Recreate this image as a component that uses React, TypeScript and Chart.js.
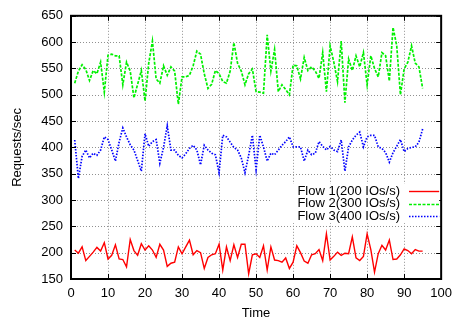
import React, { useEffect, useRef } from "react";
import { Chart, registerables } from "chart.js";

Chart.register(...registerables);

const times = [
  1, 2, 3, 4, 5, 6, 7, 8, 9, 10, 11, 12, 13, 14, 15, 16, 17, 18, 19, 20,
  21, 22, 23, 24, 25, 26, 27, 28, 29, 30, 31, 32, 33, 34, 35, 36, 37, 38, 39, 40,
  41, 42, 43, 44, 45, 46, 47, 48, 49, 50, 51, 52, 53, 54, 55, 56, 57, 58, 59, 60,
  61, 62, 63, 64, 65, 66, 67, 68, 69, 70, 71, 72, 73, 74, 75, 76, 77, 78, 79, 80,
  81, 82, 83, 84, 85, 86, 87, 88, 89, 90, 91, 92, 93, 94, 95,
];

const flow1 = [
  205, 199, 211, 185, 193, 201, 210, 203, 219, 188,
  195, 215, 188, 187, 173, 225, 204, 195, 217, 205,
  213, 205, 191, 216, 205, 174, 180, 182, 211, 198,
  211, 224, 196, 204, 200, 170, 191, 196, 198, 216,
  167, 211, 185, 215, 191, 216, 216, 160, 196, 198,
  191, 213, 167, 211, 186, 185, 182, 190, 170, 182,
  213, 200, 184, 180, 196, 198, 206, 185, 236, 186,
  193, 201, 195, 199, 198, 230, 190, 185, 193, 236,
  206, 163, 198, 214, 205, 224, 187, 188, 196, 207,
  204, 198, 206, 203, 203,
];

const flow2 = [
  522, 545, 557, 548, 527, 546, 540, 562, 505, 575,
  577, 574, 574, 519, 562, 545, 494, 520, 546, 488,
  560, 602, 530, 522, 555, 537, 553, 545, 482, 534,
  534, 537, 555, 583, 577, 540, 512, 520, 546, 540,
  525, 522, 545, 599, 560, 545, 519, 540, 549, 506,
  505, 503, 614, 545, 586, 506, 519, 510, 500, 556,
  555, 530, 571, 546, 553, 545, 531, 580, 506, 593,
  562, 525, 602, 485, 568, 546, 574, 553, 580, 519,
  574, 550, 534, 580, 574, 526, 628, 593, 500, 549,
  562, 593, 560, 553, 512,
];

const flow3 = [
  414, 341, 383, 395, 380, 389, 385, 395, 420, 415,
  395, 374, 410, 437, 420, 405, 395, 375, 355, 426,
  402, 411, 415, 370, 400, 441, 395, 395, 385, 380,
  388, 398, 404, 395, 367, 404, 395, 389, 386, 352,
  423, 420, 410, 400, 395, 380, 352, 385, 423, 358,
  423, 401, 374, 389, 386, 395, 404, 411, 420, 401,
  401, 401, 374, 395, 386, 389, 411, 402, 395, 402,
  395, 392, 414, 355, 401, 414, 423, 429, 401, 420,
  423, 423, 401, 398, 390, 372, 390, 402, 415, 392,
  398, 400, 401, 410, 435,
];

const seriesNames = ["Flow 1(200 IOs/s)", "Flow 2(300 IOs/s)", "Flow 3(400 IOs/s)"];
const seriesColors = ["#ff0000", "#00f000", "#0000ff"];
const seriesDash: number[][] = [[], [3, 1.5], [1.5, 1.5]];
const seriesWidth = [1.4, 1.7, 1.7];

const xTicks = [0, 10, 20, 30, 40, 50, 60, 70, 80, 90, 100];
const yTicks = [150, 200, 250, 300, 350, 400, 450, 500, 550, 600, 650];

const FONT = "'Liberation Sans', Arial, Helvetica, sans-serif";

const gridPlugin = {
  id: "dottedGrid",
  beforeDatasetsDraw(chart: any) {
    const { ctx, chartArea } = chart;
    const { left, right, top, bottom } = chartArea;
    const xs = chart.scales.x;
    const ys = chart.scales.y;
    ctx.save();
    ctx.strokeStyle = "#909090";
    ctx.lineWidth = 1;
    ctx.setLineDash([1, 2]);
    ctx.beginPath();
    xTicks.forEach((v) => {
      const px = Math.round(xs.getPixelForValue(v)) + 0.5;
      ctx.moveTo(px, top);
      ctx.lineTo(px, bottom);
    });
    yTicks.forEach((v) => {
      const py = Math.round(ys.getPixelForValue(v)) + 0.5;
      ctx.moveTo(left, py);
      ctx.lineTo(right, py);
    });
    ctx.stroke();
    ctx.restore();
  },
};

const framePlugin = {
  id: "frameAndKey",
  afterDatasetsDraw(chart: any) {
    const { ctx, chartArea } = chart;
    const { left, right, top, bottom } = chartArea;
    const xs = chart.scales.x;
    const ys = chart.scales.y;
    ctx.save();
    ctx.strokeStyle = "#000";
    ctx.lineWidth = 1;
    ctx.setLineDash([]);
    ctx.beginPath();
    xTicks.forEach((v) => {
      const px = Math.round(xs.getPixelForValue(v)) + 0.5;
      ctx.moveTo(px, bottom);
      ctx.lineTo(px, bottom - 5);
      ctx.moveTo(px, top);
      ctx.lineTo(px, top + 5);
    });
    yTicks.forEach((v) => {
      const py = Math.round(ys.getPixelForValue(v)) + 0.5;
      ctx.moveTo(left, py);
      ctx.lineTo(left + 5, py);
      ctx.moveTo(right, py);
      ctx.lineTo(right - 5, py);
    });
    ctx.stroke();

    // key box (opaque)
    const keyRight = right - 2;
    const boxTop = Math.round(ys.getPixelForValue(331));
    const boxBottom = Math.round(ys.getPixelForValue(256));
    ctx.fillStyle = "#fff";
    ctx.fillRect(left + 199, boxTop, keyRight - (left + 199), boxBottom - boxTop);

    ctx.font = "13px " + FONT;
    ctx.textAlign = "right";
    ctx.textBaseline = "middle";
    const rowH = 12.5;
    const firstY = boxTop + 7;
    seriesNames.forEach((name, i) => {
      const y = firstY + i * rowH;
      ctx.fillStyle = "#000";
      ctx.fillText(name, left + 329, y);
      ctx.strokeStyle = seriesColors[i];
      ctx.lineWidth = seriesWidth[i];
      ctx.setLineDash(seriesDash[i]);
      ctx.beginPath();
      ctx.moveTo(left + 338, Math.round(y) + 0.5);
      ctx.lineTo(right - 2, Math.round(y) + 0.5);
      ctx.stroke();
    });

    ctx.setLineDash([]);
    ctx.strokeStyle = "#000";
    ctx.lineWidth = 2;
    ctx.strokeRect(left, top, right - left, bottom - top);
    ctx.restore();
  },
};

export default function App() {
  const ref = useRef<HTMLCanvasElement | null>(null);

  useEffect(() => {
    if (!ref.current) return;
    const mk = (ys: number[]) => times.map((t, i) => ({ x: t, y: ys[i] }));
    const all = [flow1, flow2, flow3];
    const chart = new Chart(ref.current, {
      type: "line",
      data: {
        datasets: all.map((d, i) => ({
          label: seriesNames[i],
          data: mk(d),
          borderColor: seriesColors[i],
          borderWidth: seriesWidth[i],
          borderDash: seriesDash[i],
          pointRadius: 0,
          tension: 0,
          fill: false,
        })),
      },
      options: {
        responsive: false,
        animation: false,
        events: [],
        layout: { padding: { top: 9, right: 13, left: 0, bottom: 0 } },
        plugins: { legend: { display: false }, tooltip: { enabled: false } },
        scales: {
          x: {
            type: "linear",
            min: 0,
            max: 100,
            afterBuildTicks: (s: any) => {
              s.ticks = xTicks.map((v) => ({ value: v }));
            },
            afterFit: (s: any) => {
              s.height = 43;
            },
            ticks: {
              color: "#000",
              font: { family: FONT, size: 13 },
              padding: 7,
              maxRotation: 0,
              autoSkip: false,
            },
            grid: { display: false, drawTicks: false },
            border: { display: false },
            title: {
              display: true,
              text: "Time",
              color: "#000",
              font: { family: FONT, size: 13 },
              padding: { top: 0, bottom: 1 },
            },
          },
          y: {
            type: "linear",
            min: 150,
            max: 650,
            afterBuildTicks: (s: any) => {
              s.ticks = yTicks.map((v) => ({ value: v }));
            },
            afterFit: (s: any) => {
              s.width = 71;
            },
            ticks: {
              color: "#000",
              font: { family: FONT, size: 13 },
              padding: 8,
              autoSkip: false,
            },
            grid: { display: false, drawTicks: false },
            border: { display: false },
            title: {
              display: true,
              text: "Requests/sec",
              color: "#000",
              font: { family: FONT, size: 13 },
              padding: { top: 10, bottom: 0 },
            },
          },
        },
      },
      plugins: [gridPlugin, framePlugin],
    });
    return () => chart.destroy();
  }, []);

  return (
    <div style={{ position: "absolute", left: 0, top: 0, width: 459, height: 322, background: "#fff" }}>
      <canvas ref={ref} width={459} height={322} style={{ display: "block", width: 459, height: 322 }} />
    </div>
  );
}
